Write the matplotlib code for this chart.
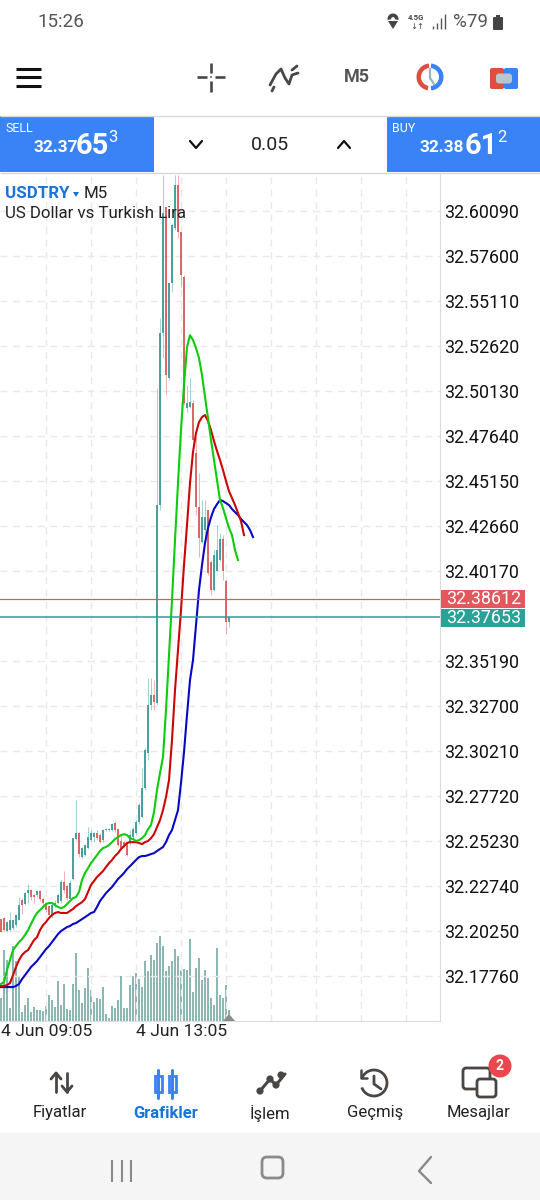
import matplotlib
matplotlib.use("Agg")
import matplotlib.pyplot as plt
import numpy as np
from matplotlib.patches import Rectangle, Circle, FancyBboxPatch, Wedge, Arc, Polygon

plt.rcParams['font.family'] = ['Roboto', 'DejaVu Sans']

# prices are written without the leading 32
opens = [.2091, .2097, .2025, .2030, .2041, .2058, .2086, .2196, .2175, .2235, .2252, .2224, .2224, .2246, .2202, .2180,
         .2163, .2113, .2163, .2180, .2191, .2296, .2274, .2202, .2313, .2534, .2567, .2434, .2445, .2484, .2528, .2545,
         .2567, .2556, .2528, .2584, .2584, .2584, .2623, .2589, .2523, .2517, .2512, .2512, .2545, .2567, .2628, .2655,
         .2816, .3010, .3275, .3331, .3286, .4382, .5333, .6031, .5085, .5610, .5915, .6153, .5893, .5644, .4919, .4925,
         .4947, .4670, .4371, .4177, .4244, .4354, .4067, .3912, .4017, .4078, .4194, .3962, .3735]
closes = [.2019, .2030, .2075, .2086, .2086, .2113, .2169, .2169, .2235, .2252, .2213, .2213, .2246, .2202, .2180, .2141,
          .2113, .2169, .2180, .2224, .2296, .2252, .2207, .2291, .2539, .2567, .2451, .2484, .2501, .2545, .2567, .2567,
          .2539, .2517, .2584, .2589, .2589, .2617, .2584, .2501, .2484, .2495, .2445, .2556, .2589, .2628, .2722, .2816,
          .3026, .3275, .3331, .3292, .4382, .5333, .5998, .5101, .5610, .5931, .6153, .5893, .5655, .4947, .4947, .4952,
          .4742, .4371, .4200, .4315, .4315, .4005, .3912, .4105, .4133, .4194, .4017, .3735, .3765]
highs = [.2091, .2102, .2080, .2130, .2086, .2113, .2213, .2207, .2241, .2285, .2258, .2230, .2252, .2252, .2207, .2180,
         .2163, .2180, .2196, .2235, .2307, .2357, .2280, .2307, .2539, .2750, .2572, .2490, .2506, .2600, .2584, .2572,
         .2584, .2567, .2589, .2595, .2595, .2623, .2634, .2589, .2556, .2523, .2517, .2584, .2600, .2639, .2733, .2927,
         .3037, .3425, .3425, .3414, .5029, .5416, .6208, .6031, .5610, .5942, .6208, .6208, .5893, .5655, .5046, .5085,
         .4963, .4758, .4559, .4410, .4410, .4354, .4078, .4133, .4271, .4227, .4216, .3967, .3765]
lows = [.2019, .2025, .2020, .2020, .2030, .2047, .2086, .2119, .2169, .2180, .2196, .2180, .2213, .2191, .2158, .2130,
        .2097, .2097, .2158, .2175, .2180, .2235, .2196, .2191, .2307, .2528, .2434, .2429, .2440, .2479, .2523, .2517,
        .2528, .2512, .2517, .2578, .2578, .2578, .2572, .2495, .2479, .2484, .2440, .2501, .2539, .2556, .2617, .2650,
        .2805, .2971, .3248, .3248, .3275, .4354, .5195, .4990, .5074, .5561, .5904, .5860, .5589, .4935, .4897, .4919,
        .4731, .4327, .4094, .4172, .4172, .3995, .3884, .3906, .4017, .4072, .3967, .3671, .3707]
volumes = [67, 212, 182, 37, 224, 177, 132, 24, 47, 67, 25, 40, 32, 30, 29, 42, 77, 62, 40, 117, 47, 110, 35, 30, 110,
           202, 92, 52, 97, 157, 92, 54, 67, 64, 100, 19, 7, 44, 37, 60, 132, 37, 37, 107, 132, 142, 125, 100, 179, 147,
           197, 182, 232, 252, 224, 147, 162, 177, 215, 192, 150, 155, 152, 245, 85, 157, 187, 122, 150, 127, 67, 47,
           217, 77, 67, 105, 32]

green_line = [.1732, .1743, .1809, .1864, .1920, .1942, .1964, .1980, .2003, .2030, .2064, .2097, .2125, .2141, .2158,
              .2174, .2180, .2180, .2169, .2158, .2152, .2158, .2174, .2191, .2207, .2213, .2241, .2307, .2346, .2373,
              .2401, .2423, .2445, .2468, .2484, .2490, .2501, .2517, .2534, .2545, .2556, .2561, .2556, .2539, .2534,
              .2523, .2528, .2539, .2556, .2589, .2611, .2683, .2805, .2899, .2988, .3248, .3552, .3856, .4188, .4504,
              .4797, .5046, .5256, .5322, .5295, .5251, .5195, .5101, .4980, .4863, .4742, .4631, .4520, .4410, .4365,
              .4310, .4255, .4216, .4133, .4078]
red_line = [.1721, .1721, .1726, .1737, .1781, .1826, .1864, .1892, .1909, .1920, .1947, .1975, .1991, .2030, .2058,
            .2075, .2097, .2113, .2125, .2130, .2125, .2125, .2125, .2136, .2147, .2163, .2174, .2185, .2202, .2241,
            .2280, .2302, .2324, .2340, .2357, .2379, .2401, .2418, .2440, .2456, .2479, .2495, .2512, .2517, .2517,
            .2517, .2512, .2506, .2517, .2523, .2539, .2561, .2600, .2639, .2694, .2766, .2860, .3082, .3358, .3580,
            .3801, .4050, .4271, .4504, .4675, .4780, .4841, .4869, .4880, .4847, .4797, .4736, .4681, .4631, .4576,
            .4515, .4459, .4421, .4382, .4338, .4293, .4216]
blue_line = [.1715, .1715, .1715, .1715, .1715, .1721, .1732, .1759, .1781, .1803, .1826, .1842, .1859, .1881, .1903,
             .1925, .1942, .1964, .1986, .2008, .2025, .2036, .2047, .2053, .2064, .2069, .2080, .2091, .2102, .2113,
             .2125, .2130, .2158, .2191, .2213, .2235, .2252, .2269, .2291, .2313, .2329, .2346, .2368, .2384, .2401,
             .2418, .2434, .2440, .2440, .2445, .2451, .2456, .2468, .2479, .2490, .2517, .2556, .2584, .2639, .2694,
             .2844, .3015, .3220, .3414, .3524, .3718, .3912, .4050, .4172, .4255, .4315, .4360, .4387, .4410, .4404,
             .4393, .4382, .4360, .4343, .4327, .4305, .4288, .4271, .4244, .4205]

price_ticks = [32.60090, 32.57600, 32.55110, 32.52620, 32.50130, 32.47640, 32.45150, 32.42660, 32.40170,
               32.35190, 32.32700, 32.30210, 32.27720, 32.25230, 32.22740, 32.20250, 32.17760]
buy_price = 32.38612
sell_price = 32.37653
time_ticks = [0, 45]
time_labels = ['4 Jun 09:05', '4 Jun 13:05']

TEAL = '#3f9d9a'
RED = '#d8605f'
GRID = '#e9e9e9'
BLUE = '#3a83f7'
DARK = '#4a4644'
NAVY = '#1a73d9'

fig = plt.figure(figsize=(5.4, 12), dpi=100, facecolor='white')

# chart area, 0..440 px wide and 172..1020.5 px down
ax = fig.add_axes([0, 1 - 1020.5 / 1200, 440 / 540, 848.5 / 1200])
ax.set_xlim(-1 / 3, 146.33)
ax.set_ylim(32.1530, 32.6225)
ax.set_zorder(2)
ax.patch.set_visible(False)

vol = ax.twinx()
vol.set_zorder(1)
vol.set_ylim(0, 2545)
vol.bar(range(len(volumes)), volumes, width=0.68, color='#8db7b5', linewidth=0)
vol.set_yticks([])
for s in vol.spines.values():
    s.set_visible(False)

for x in range(15, 146, 15):
    ax.axvline(x, color=GRID, lw=1, ls=(0, (5, 4)), zorder=0)
for p in price_ticks:
    ax.axhline(p, color=GRID, lw=1, ls=(0, (5, 4)), zorder=0)

for i in range(len(opens)):
    o, c = 32 + opens[i], 32 + closes[i]
    col = TEAL if c >= o else RED
    ax.plot([i, i], [32 + lows[i], 32 + highs[i]], color=col, lw=0.6, alpha=0.55, zorder=2, solid_capstyle='butt')
    ax.plot([i, i], [o, c], color=col, lw=1.35, zorder=3, solid_capstyle='butt')

ax.plot(np.arange(len(blue_line)), 32 + np.array(blue_line), color='#0808c4', lw=1.5, zorder=4)
ax.plot(np.arange(len(red_line)), 32 + np.array(red_line), color='#cc0606', lw=1.5, zorder=5)
ax.plot(np.arange(len(green_line)), 32 + np.array(green_line), color='#0ccc0c', lw=1.5, zorder=6)

ax.axhline(buy_price, color='#e0585c', lw=0.9, zorder=7)
ax.axhline(sell_price, color='#2ba198', lw=1.1, zorder=7)

ax.yaxis.tick_right()
ax.set_yticks(price_ticks)
ax.set_yticklabels(['%.5f' % p for p in price_ticks], fontsize=12.9, color='#111111')
ax.tick_params(axis='y', length=0, pad=3)
ax.set_xticks(time_ticks)
ax.set_xticklabels(time_labels, fontsize=12.6, color='#222222', ha='left')
ax.tick_params(axis='x', length=0, pad=2.5)
for s in ['top', 'bottom', 'left']:
    ax.spines[s].set_visible(False)
ax.spines['right'].set_color('#dcdcdc')
ax.spines['bottom'].set_visible(True)
ax.spines['bottom'].set_color('#dcdcdc')

# everything around the chart, in screen pixels
ui = fig.add_axes([0, 0, 1, 1])
ui.set_xlim(0, 540)
ui.set_ylim(1200, 0)
ui.axis('off')
ui.set_zorder(5)
ui.patch.set_visible(False)


def line(xs, ys, color=DARK, lw=2.0, cap='round'):
    ui.plot(xs, ys, color=color, lw=lw, solid_capstyle=cap, solid_joinstyle='round')


def label(x, y, s, size, color='#222222', ha='left', weight='normal'):
    ui.text(x, y, s, fontsize=size, color=color, ha=ha, va='center', fontweight=weight)


def box(x, y, w, h, color, r=2, **kw):
    ui.add_patch(FancyBboxPatch((x + r, y + r), w - 2 * r, h - 2 * r, boxstyle='round,pad=%s' % r,
                                facecolor=color, linewidth=0, **kw))


# status bar
label(37, 22, '15:26', 13.5, '#555555')
ui.add_patch(Wedge((393, 19), 5.5, 170, 10, facecolor='#444444', linewidth=0))
ui.add_patch(Polygon([[388, 21], [398, 21], [393, 29]], facecolor='#444444', linewidth=0))
ui.add_patch(Circle((393, 19), 1.9, facecolor='white', linewidth=0))
label(408, 18, '4.5G', 5.6, '#444444', 'left', 'bold')
label(410, 27, '↓↑', 6, '#444444')
for k, h in enumerate([3, 6, 11, 15]):
    line([433 + k * 4, 433 + k * 4], [29, 29 - h], '#555555', 1.0, 'butt')
label(453, 22, '%79', 13.5, '#555555')
box(493, 17, 10, 13, '#444444', 1)
ui.add_patch(Rectangle((496, 14.5), 4, 3, facecolor='#444444', linewidth=0))

# toolbar
for y in [69, 77, 86]:
    line([16, 41], [y, y], '#111111', 2.2, 'butt')
line([197, 207], [77, 77], DARK, 1.9, 'butt')
line([215, 225], [77, 77], DARK, 1.9, 'butt')
line([211, 211], [63, 73], DARK, 1.9, 'butt')
line([211, 211], [81, 92], DARK, 1.9, 'butt')
ui.add_patch(Circle((211, 77), 0.9, facecolor=DARK, linewidth=0))
line([270, 276, 281, 285, 289, 292, 298], [85, 74, 69, 78, 84, 75, 73], DARK, 2.0)
line([272, 274], [91, 87], DARK, 2.0)
line([292, 297], [70, 66], DARK, 2.0)
label(357, 77, 'M5', 13, '#555555', 'center', 'bold')
ui.add_patch(Wedge((430, 77), 13.5, 100, 265, width=4.5, facecolor='#dd4f3c', linewidth=0))
ui.add_patch(Wedge((430, 77), 13.5, 275, 85, width=4.5, facecolor=BLUE, linewidth=0))
line([430, 430, 434], [69, 78, 84], '#9ab0bd', 1.6)
box(490, 68, 14, 21, '#dd4f3c', 2)
box(504, 68, 14, 21, BLUE, 2)
box(496, 73.5, 16, 10, '#b9c6cd', 3)

# sell and buy strip
ui.add_patch(Rectangle((0, 115), 540, 58, facecolor='white', edgecolor='none', zorder=0))
line([0, 540], [115.5, 115.5], '#d8d8d8', 1, 'butt')
line([0, 540], [172.5, 172.5], '#d8d8d8', 1, 'butt')
ui.add_patch(Rectangle((0, 116), 153.5, 56, facecolor=BLUE, linewidth=0))
ui.add_patch(Rectangle((387, 116), 153, 56, facecolor=BLUE, linewidth=0))
label(5, 129, 'SELL', 9, 'white')
label(34, 148, '32.37', 12.4, 'white', 'left', 'bold')
label(76, 146, '65', 21, 'white', 'left', 'bold')
label(108, 137, '3', 12, 'white')
label(392, 129, 'BUY', 9, 'white')
label(420, 148, '32.38', 12.4, 'white', 'left', 'bold')
label(465, 146, '61', 21, 'white', 'left', 'bold')
label(497, 137, '2', 12, 'white')
line([190, 196, 202], [141, 148, 141], '#111111', 1.6)
line([338, 344, 350], [148, 141, 148], '#111111', 1.6)
label(270, 145, '0.05', 14, '#222222', 'center')

# chart captions and price boxes
label(5, 194, 'USDTRY', 12.2, NAVY, 'left', 'bold')
ui.add_patch(Polygon([[73, 192], [79, 192], [76, 197]], facecolor=NAVY, linewidth=0))
label(84, 194, 'M5', 12.2, '#222222')
label(5, 214, 'US Dollar vs Turkish Lira', 12.2, '#222222')
ui.add_patch(Rectangle((441, 590), 84, 18, facecolor='#e2585c', linewidth=0))
ui.add_patch(Rectangle((441, 609), 84, 18, facecolor='#2ba198', linewidth=0))
label(446, 599.5, '%.5f' % buy_price, 12.9, 'white')
label(446, 618, '%.5f' % sell_price, 12.9, 'white')
ui.add_patch(Polygon([[223, 1021], [235, 1021], [229, 1014]], facecolor='#8c8c8c', linewidth=0))

# bottom navigation
ui.add_patch(Rectangle((0, 1133), 540, 67, facecolor='#f5f5f5', linewidth=0))
line([56, 56], [1073, 1092], DARK, 2.0)
line([51, 56, 61], [1079, 1073, 1079], DARK, 2.0)
line([67, 67], [1073, 1092], DARK, 2.0)
line([62, 67, 72], [1086, 1092, 1086], DARK, 2.0)
for x in [158, 172]:
    line([x, x], [1070, 1098], BLUE, 2.2)
    ui.add_patch(Rectangle((x - 3.5, 1076), 7, 16, facecolor='white', edgecolor=BLUE, linewidth=2))
line([260, 270, 276, 285], [1091, 1079, 1085, 1074], DARK, 2.2)
for x, y in [(260, 1091), (270, 1079), (276, 1085), (281, 1075)]:
    ui.add_patch(Circle((x, y), 3.6, facecolor=DARK, linewidth=0))
ui.add_patch(Arc((374, 1083), 26, 26, theta1=-160 + 360, theta2=160 + 360, angle=0, edgecolor=DARK, lw=2.0))
line([361, 361, 367], [1070, 1078, 1078], DARK, 1.8)
line([374, 374, 381], [1076, 1084, 1089], DARK, 2.0)
ui.add_patch(FancyBboxPatch((466, 1071), 21, 15, boxstyle='round,pad=3', facecolor='none', edgecolor=DARK, lw=2.0))
ui.add_patch(FancyBboxPatch((480, 1082), 13, 12, boxstyle='round,pad=3', facecolor='white', edgecolor=DARK, lw=2.0))
ui.add_patch(Circle((500, 1066), 11.5, facecolor='#e8484d', linewidth=0))
label(500, 1066, '2', 10, 'white', 'center', 'bold')
label(60, 1113, 'Fiyatlar', 12, '#222222', 'center')
label(166, 1113, 'Grafikler', 12, NAVY, 'center', 'bold')
label(270, 1113, 'İşlem', 12, '#222222', 'center')
label(375, 1113, 'Geçmiş', 12, '#222222', 'center')
label(479, 1113, 'Mesajlar', 12, '#222222', 'center')
for x in [112, 122, 131]:
    line([x, x], [1160, 1182], '#8a8a8a', 1.5, 'butt')
ui.add_patch(FancyBboxPatch((267, 1162), 11, 11, boxstyle='round,pad=5', facecolor='none', edgecolor='#8a8a8a', lw=2))
line([431, 419, 431], [1157, 1171, 1183], '#8a8a8a', 1.7)

fig.savefig('out.png', dpi=100)
